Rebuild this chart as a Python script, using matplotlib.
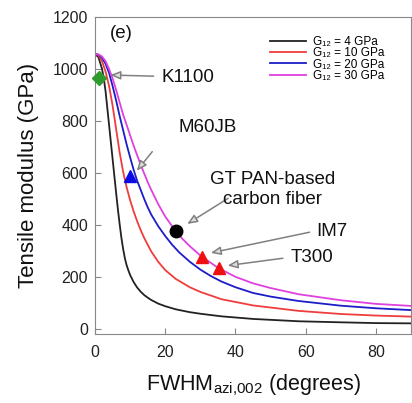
import numpy as np
import matplotlib
matplotlib.use("Agg")
from matplotlib import pyplot as plt

plt.rcParams['font.family'] = ['Liberation Sans', 'DejaVu Sans']
plt.rcParams['mathtext.fontset'] = 'custom'
plt.rcParams['mathtext.rm'] = 'Liberation Sans'
plt.rcParams['mathtext.it'] = 'Liberation Sans'

# curves: FWHM (deg) -> tensile modulus (GPa)
x_g4 = [0, 1, 2, 2.5, 3, 3.5, 4, 4.5, 5, 5.5, 6, 6.5, 7, 7.5, 8, 8.5, 9, 9.5, 10, 11, 12, 13, 14, 15, 16, 18, 20, 23, 27, 30, 36, 45, 58, 70, 80, 90]
y_g4 = [1058, 1045, 1000, 964, 915, 850, 785, 720, 655, 590, 525, 462, 405, 352, 308, 272, 245, 225, 207, 180, 159, 143, 130, 120, 111, 97, 87, 75, 64, 58, 48, 38, 29, 25, 22, 21]

x_g10 = [0, 1, 2, 3, 4, 5, 6, 7, 8, 9, 10, 11, 12, 13, 14, 16, 18, 20, 23, 27, 30, 36, 45, 58, 70, 80, 90]
y_g10 = [1058, 1052, 1030, 990, 935, 860, 770, 680, 605, 545, 495, 452, 414, 380, 350, 298, 258, 226, 192, 160, 142, 114, 90, 69, 57, 51, 47]

x_g20 = [0, 1, 2, 3, 4, 5, 6, 7, 8, 9, 10, 11, 12, 13, 14, 15, 16, 18, 20, 22, 24, 27, 30, 33, 36, 40, 45, 50, 58, 70, 80, 90]
y_g20 = [1058, 1055, 1043, 1020, 985, 935, 880, 820, 765, 710, 660, 612, 570, 535, 500, 468, 440, 395, 357, 323, 294, 258, 228, 203, 182, 160, 138, 124, 107, 89, 79, 72]

x_g30 = [0, 1, 2, 3, 4, 5, 6, 7, 8, 9, 10, 11, 12, 13, 14, 15, 16, 18, 20, 23, 25, 27, 30, 35, 40, 45, 50, 58, 70, 80, 90]
y_g30 = [1058, 1056, 1048, 1030, 1000, 964, 920, 872, 825, 785, 745, 705, 668, 632, 598, 565, 535, 480, 432, 375, 345, 318, 282, 235, 200, 175, 157, 133, 110, 96, 88]

series = [
    (x_g4, y_g4, '#222222', 'G\u2081\u2082 = 4 GPa'),
    (x_g10, y_g10, '#f03c3c', 'G\u2081\u2082 = 10 GPa'),
    (x_g20, y_g20, '#1c1cc8', 'G\u2081\u2082 = 20 GPa'),
    (x_g30, y_g30, '#e040e0', 'G\u2081\u2082 = 30 GPa'),
]

# fibre data points
fib_names = ['K1100', 'M60JB', 'GT PAN-based\ncarbon fiber', 'IM7', 'T300']
fib_x = [1, 10, 23, 30.5, 35.2]
fib_y = [965, 590, 375, 278, 233]

fig = plt.figure(figsize=(4.12, 4.03), dpi=100)
ax = fig.add_axes([0.2306, 0.1712, 0.7670, 0.7866])

for xs, ys, c, lab in series:
    ax.plot(xs, ys, color=c, lw=1.3, label=lab)

ax.plot(fib_x[0], fib_y[0], marker='D', color='#2e9a2e', ms=7, ls='none', clip_on=False, zorder=5)
ax.plot(fib_x[1], fib_y[1], marker='^', color='#0a0ae6', ms=9, ls='none', zorder=5)
ax.plot(fib_x[2], fib_y[2], marker='o', color='black', ms=9, ls='none', zorder=5)
ax.plot(fib_x[3:], fib_y[3:], marker='^', color='#ee1010', ms=9, ls='none', zorder=5)

arrow = dict(arrowstyle='-|>, head_length=0.6, head_width=0.25', fc='#dddddd', ec='#808080', lw=1.1)
# (text position, arrow start, arrow end)
ann = [
    ((18.8, 969), (17.5, 972), (3.6, 977), 'left'),
    ((23.8, 773), (16.8, 690), (11.4, 600), 'left'),
    ((50.5, 535), (38.6, 508), (25.6, 398), 'center'),
    ((63.0, 373), (61.9, 374), (32.2, 290), 'left'),
    ((55.6, 273), (54.3, 273), (37.0, 242), 'left'),
]
for name, (txt, start, end, ha) in zip(fib_names, ann):
    ax.annotate('', xy=end, xytext=start, arrowprops=arrow)
    ax.text(txt[0], txt[1], name, ha=ha, va='center', fontsize=13.5,
            color='#111111', linespacing=1.25)

ax.text(4.3, 1138, '(e)', fontsize=13.5, va='center', ha='left', color='#111111')

ax.set_xlim(0, 90)
ax.set_ylim(-20, 1200)
ax.set_xticks([0, 20, 40, 60, 80])
ax.set_yticks(np.arange(0, 1201, 200))
ax.tick_params(direction='in', length=4, color='#888888', labelsize=11.5,
               labelcolor='#222222')
ax.tick_params(axis='y', pad=5)
ax.tick_params(axis='x', pad=8)
for sp in ax.spines.values():
    sp.set_color('#888888')

ax.set_xlabel('FWHM$_{\\mathrm{azi{,}002}}$ (degrees)', fontsize=15.5, color='#111111', labelpad=9)
ax.set_ylabel('Tensile modulus (GPa)', fontsize=16, color='#111111', labelpad=10)

ax.legend(loc='upper left', bbox_to_anchor=(0.555, 0.941), frameon=False, fontsize=8.5,
          handlelength=3.0, handletextpad=0.6, labelspacing=-0.05, borderpad=0,
          borderaxespad=0)

fig.savefig('out.png', dpi=100)
